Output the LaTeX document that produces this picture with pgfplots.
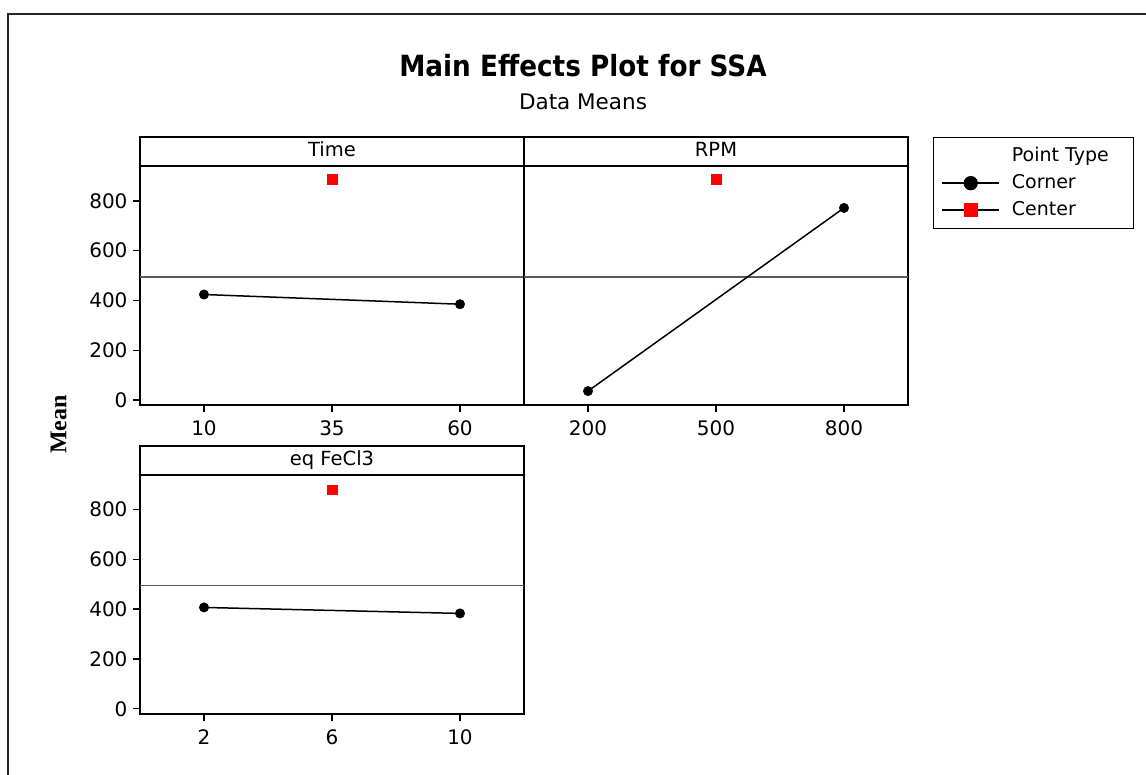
\documentclass[border=0pt]{standalone}
\usepackage{pgfplots}
\pgfplotsset{compat=1.18}
\usepackage{fontspec}
\setmainfont{DejaVu Sans}
\newfontfamily\titlefont[FakeStretch=0.9]{DejaVu Sans}
\newfontfamily\serifmain{Liberation Serif}
\newcommand\fs[1]{\fontsize{#1pt}{#1pt}\selectfont}

\pgfplotsset{
  panel/.style={
    scale only axis, width=384pt, height=268pt, anchor=south west,
    ymin=-20, ymax=1057,
    axis line style={line width=1.8pt, black},
    tick align=outside, xtick pos=bottom, ytick pos=left,
    major tick length=7pt,
    tick style={line width=1.5pt, black},
    ticklabel style={font=\fs{20}},
    xticklabel style={yshift=-5pt},
    yticklabel style={xshift=-2pt},
    /pgf/number format/assume math mode=true,
    clip=true,
  },
  corner/.style={black, line width=1.5pt, mark=*, mark size=4.7pt, mark options={solid, fill=black, line width=0.5pt}},
  center/.style={only marks, mark=square*, mark size=4.7pt, mark options={fill=red, draw=red, line width=0.3pt}},
  refline/.style={forget plot, line width=1.4pt, color=black!65},
}
\newcommand\header[1]{%
  \draw[line width=1.8pt, black] (rel axis cs:0,0.8914) -- (rel axis cs:1,0.8914);
  \node[font=\fs{19.5}, anchor=base] at (rel axis cs:0.5,0.9265) {#1};
}

\begin{document}
\begin{tikzpicture}
\useasboundingbox (0pt,0pt) rectangle (1146pt,774pt);
% outer frame (right and bottom edges lie beyond the picture)
\draw[line width=2pt, black!85] (7.8pt,-20pt) -- (7.8pt,759.7pt) -- (1170pt,759.7pt);

% title
\node[font=\titlefont\bfseries\fs{29.2}, anchor=base] at (583pt,697.3pt) {Main Effects Plot for SSA};
\node[font=\fs{21.5}, anchor=base] at (583pt,664pt) {Data Means};
% y label
\node[font=\serifmain\bfseries\fs{24}, rotate=90] at (58.7pt,349.5pt) {Mean};

% ---------- Time ----------
\begin{axis}[panel, at={(140pt,369pt)},
  xmin=-2.5, xmax=72.5, xtick={10,35,60},
  ytick={0,200,400,600,800}]
  \addplot[refline] coordinates {(-2.5,494) (72.5,494)};
  \addplot[corner] coordinates {(10,424) (60,385)};
  \addplot[center] coordinates {(35,887)};
  \header{Time}
\end{axis}

% ---------- RPM ----------
\begin{axis}[panel, at={(524pt,369pt)},
  xmin=50, xmax=950, xtick={200,500,800},
  ytick=\empty,
  legend style={at={(1.0649,1)}, anchor=north west, draw=black, line width=1.3pt,
    font=\fs{19}, inner xsep=8pt, inner ysep=5pt, row sep=0pt,
    nodes={inner sep=3pt, text height=16pt, text depth=5pt},
    cells={anchor=west}},
  legend image code/.code={%
    \draw[mark repeat=2, mark phase=2, line width=1.3pt]
      plot coordinates {(0pt,0pt) (28.5pt,0pt) (57pt,0pt)};}]
  \addplot[refline] coordinates {(50,494) (950,494)};
  \addplot[corner, forget plot] coordinates {(200,36) (800,772)};
  \addplot[center, forget plot] coordinates {(500,888)};
  \addlegendimage{empty legend}
  \addlegendentry{\hspace{9pt}Point Type\rule{14pt}{0pt}}
  \addlegendimage{black, mark=*, mark size=6.5pt, mark options={fill=black}}
  \addlegendentry{\hspace{9pt}Corner}
  \addlegendimage{black, mark=square*, mark size=6.3pt, mark options={fill=red, draw=red}}
  \addlegendentry{\hspace{9pt}Center}
  \header{RPM}
\end{axis}

% ---------- eq FeCl3 ----------
\begin{axis}[panel, at={(140pt,60.3pt)},
  xmin=0, xmax=12, xtick={2,6,10},
  ytick={0,200,400,600,800}]
  \addplot[refline] coordinates {(0,494) (12,494)};
  \addplot[corner] coordinates {(2,407) (10,383)};
  \addplot[center] coordinates {(6,880)};
  \header{eq FeCl3}
\end{axis}
\end{tikzpicture}
\end{document}
